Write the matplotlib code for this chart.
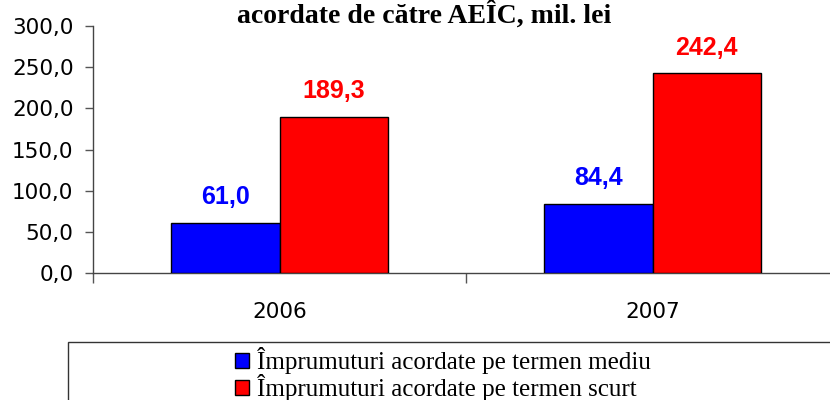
import matplotlib
matplotlib.use("Agg")
import matplotlib.pyplot as plt
from matplotlib.patches import Rectangle, Patch
import numpy as np

categories = ["2006", "2007"]
mediu = [61.0, 84.4]
scurt = [189.3, 242.4]
series_names = ["Împrumuturi acordate pe termen mediu", "Împrumuturi acordate pe termen scurt"]
title_text = "acordate de către AEÎC, mil. lei"
yticks = [0, 50, 100, 150, 200, 250, 300]

W, H = 830, 400
fig = plt.figure(figsize=(W/100, H/100), dpi=100)
ax = fig.add_axes([93/W, 1-273/H, (839-93)/W, (273-26)/H])

x = np.arange(len(categories))
bw = 0.29
b1 = ax.bar(x - bw/2, mediu, bw, color="#0000FF", edgecolor="black", linewidth=1.0, zorder=3)
b2 = ax.bar(x + bw/2, scurt, bw, color="#FF0000", edgecolor="black", linewidth=1.0, zorder=3)

def fmt(v):
    return f"{v:.1f}".replace(".", ",")

for bars, vals, col in [(b1, mediu, "#0000FF"), (b2, scurt, "#FF0000")]:
    for r, v in zip(bars, vals):
        ax.annotate(fmt(v), (r.get_x() + r.get_width()/2, v), xytext=(0, 10),
                    textcoords="offset points", ha="center", va="bottom",
                    fontsize=18, fontweight="bold", color=col, family="Liberation Sans")

ax.set_xlim(-0.5, 1.5)
ax.set_ylim(0, 300)
ax.set_yticks(yticks)
ax.set_yticklabels([fmt(t) for t in yticks], fontsize=15.5, family="DejaVu Sans")
ax.set_xticks([-0.5, 0.5, 1.5])
ax.set_xticklabels([])
ax.set_xticks(x, minor=True)
ax.set_xticklabels(categories, minor=True, fontsize=15.5, family="DejaVu Sans")
ax.tick_params(axis="x", which="minor", length=0, pad=21)
ax.tick_params(axis="x", which="major", length=7, width=1, color="#555555")
ax.tick_params(axis="y", length=6, width=1, color="#555555", pad=8)
for s in ["top", "right"]:
    ax.spines[s].set_visible(False)
for s in ["left", "bottom"]:
    ax.spines[s].set_color("#444444")
    ax.spines[s].set_linewidth(1.0)

fig.text(424/W, 1-23/H, title_text, ha="center", va="baseline", fontsize=20,
         fontweight="bold", family="Liberation Serif")

# legend box
fig.patches.append(Rectangle((68/W, -0.05), 1.0, (1-342/H) + 0.05,
                             transform=fig.transFigure, facecolor="white",
                             edgecolor="#333333", linewidth=1.0, zorder=1))
handles = [Patch(facecolor="#0000FF", edgecolor="black"), Patch(facecolor="#FF0000", edgecolor="black")]
leg = fig.legend(handles, series_names, loc="center", bbox_to_anchor=(443/W, 1-374/H),
                 frameon=False, prop={"family": "Liberation Serif", "size": 18},
                 handlelength=0.56, handleheight=0.55, handletextpad=0.35, labelspacing=0.0,
                 borderaxespad=0, borderpad=0)

fig.savefig("out.png", dpi=100)
